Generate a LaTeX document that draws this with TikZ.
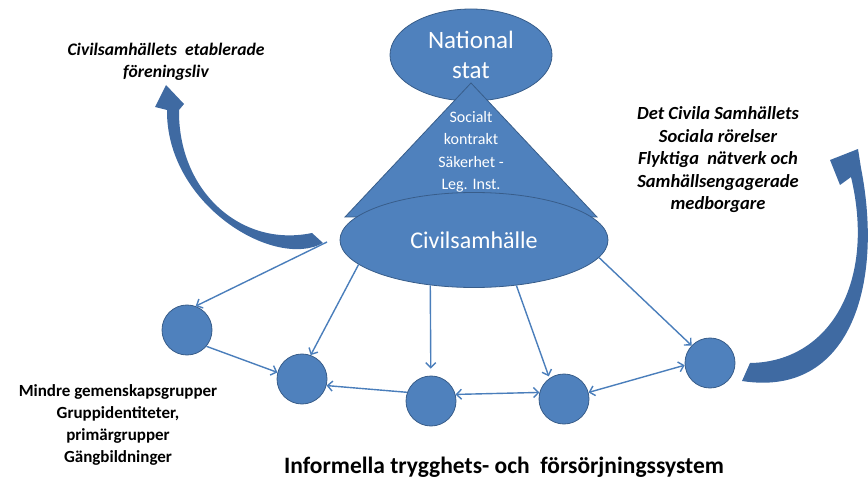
\documentclass[tikz,border=0pt]{standalone}
\usepackage{fontspec}
\setmainfont{Carlito}
\usetikzlibrary{arrows.meta,shapes.geometric}
\definecolor{fillb}{RGB}{79,129,189}
\definecolor{edgeb}{RGB}{56,93,138}
\definecolor{lineb}{RGB}{74,126,187}
\definecolor{curveb}{RGB}{63,106,162}
\begin{document}
\begin{tikzpicture}[x=1pt,y=-1pt,
  blob/.style={fill=fillb, draw=edgeb, line width=0.8pt},
  dot/.style={blob, circle, minimum size=50pt, inner sep=0pt},
  conn/.style={draw=lineb, line width=1.4pt, -{Straight Barb[length=5pt,width=10pt]}},
  bconn/.style={draw=lineb, line width=1.4pt, {Straight Barb[length=5pt,width=10pt]}-{Straight Barb[length=5pt,width=10pt]}},
  wlabel/.style={text=white, align=center, inner sep=0pt},
  note/.style={align=center, inner sep=0pt, font=\fontsize{17.6}{22.3}\selectfont\bfseries\itshape},
  plain/.style={align=center, inner sep=0pt, font=\fontsize{17}{22.3}\selectfont\bfseries},
  bigarrow/.style={fill=curveb, draw=none}
]
\useasboundingbox (0,0) rectangle (868,481);

% top ellipse
\node[blob, ellipse, minimum width=162pt, minimum height=92pt, inner sep=0pt,
      wlabel, font=\fontsize{25}{30}\selectfont] (nat) at (471,55) {National\\stat};
% triangle
\draw[blob] (471,83) -- (597,217) -- (345,217) -- cycle;
\node[wlabel, font=\fontsize{16}{22.4}\selectfont] (tri) at (471,152)
  {Socialt\\kontrakt\\Säkerhet -\\Leg. Inst.};
% civil society ellipse
\node[blob, ellipse, minimum width=268pt, minimum height=95pt, inner sep=0pt,
      text=white, font=\fontsize{24}{28}\selectfont] (civ) at (474,240) {Civilsamhälle};

% circles
\node[dot] (c1) at (187,330) {};
\node[dot] (c2) at (302,379) {};
\node[dot] (c3) at (431,401) {};
\node[dot] (c4) at (564,399) {};
\node[dot] (c5) at (710,363) {};

% curved block arrows
\fill[bigarrow] (323,243) .. controls (275,270) and (166,205) .. (167,110)
  -- (155,107) -- (166,85) -- (184,104) -- (179,110)
  .. controls (178,190) and (240,248) .. (312,233) -- cycle;
\fill[bigarrow] (742,381) .. controls (850,398) and (884,285) .. (861,168)
  -- (858,149) -- (830,160) -- (840,185) -- (851,177)
  .. controls (876,282) and (830,362) .. (750,363) -- cycle;

% connectors
\coordinate (s1) at (327,242);
\draw[conn] (s1) -- (c1.70);
\draw[conn] (civ.192.6) -- (c2.70);
\draw[conn, shorten >=7pt] (civ.226.3) -- (c3);
\draw[conn, shorten >=2pt] (civ.313.7) -- (c4.125);
\draw[conn] (civ.352.6) -- (c5);
\draw[conn] (c1.-40) -- (c2.165);
\draw[conn] (c3.160) -- (c2.-15);
\draw[bconn] (c3.15) -- (c4.165);
\draw[bconn] (c4.15) -- (c5.185);

% labels
\node[note] (lt) at (166,62) {Civilsamhällets\ \ etablerade\\föreningsliv};
\node[note, font=\fontsize{18.5}{22.5}\selectfont\bfseries\itshape] (rt) at (718,160)
  {Det Civila Samhällets\\Sociala rörelser\\Flyktiga\ \ nätverk och\\Samhällsengagerade\\medborgare};
\node[plain] (lb) at (118,425) {Mindre gemenskapsgrupper\\Gruppidentiteter,\\primärgrupper\\Gängbildninger};
\node[inner sep=0pt, font=\fontsize{23.5}{28}\selectfont\bfseries] (bt) at (504,467)
  {Informella trygghets- och\ \ försörjningssystem};
\end{tikzpicture}
\end{document}
